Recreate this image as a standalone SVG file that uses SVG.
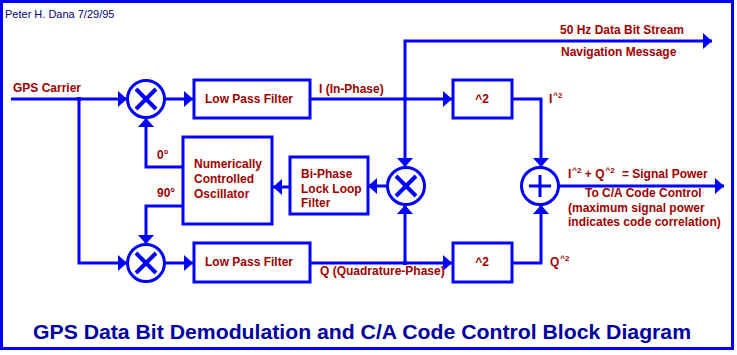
<svg xmlns="http://www.w3.org/2000/svg" width="737" height="355" viewBox="0 0 737 355">
<style>
.ln{fill:none;stroke:#0000FF;stroke-width:3;stroke-linejoin:miter}
.bx{fill:#FFFFFF;stroke:#0000FF;stroke-width:3}
.op{fill:none;stroke:#0000FF;stroke-width:3}
.sym{stroke:#0000FF;stroke-width:4;stroke-linecap:butt}
.lb{font-family:"Liberation Sans",Arial,sans-serif;font-weight:bold;font-size:12px;fill:#A00000}
.sup{font-size:8px}
.dot{fill:#0000FF}
</style>
<defs>
<marker id="ah" markerUnits="userSpaceOnUse" markerWidth="10" markerHeight="16" refX="9" refY="8" orient="auto">
<path d="M0,0 L9,8 L0,16 z" fill="#0000FF"/>
</marker>
</defs>
<rect x="0" y="0" width="737" height="355" fill="#FFFFFF"/>
<rect x="1.5" y="1.5" width="731" height="347" class="ln"/>
<text x="5" y="18" style="font-family:'Liberation Sans',Arial,sans-serif;font-size:11px;fill:#000080">Peter H. Dana 7/29/95</text>

<g id="connectors">
<path class="ln" d="M11,99 H127" marker-end="url(#ah)"/>
<path class="ln" d="M79,99 V263 H127" marker-end="url(#ah)"/>
<path class="ln" d="M165,99 H193" marker-end="url(#ah)"/>
<path class="ln" d="M165,263 H193" marker-end="url(#ah)"/>
<path class="ln" d="M310,99 H452" marker-end="url(#ah)"/>
<path class="ln" d="M310,263 H452" marker-end="url(#ah)"/>
<path class="ln" d="M183,167 H146 V118" marker-end="url(#ah)"/>
<path class="ln" d="M183,206 H146 V244" marker-end="url(#ah)"/>
<path class="ln" d="M290,187 H273" marker-end="url(#ah)"/>
<path class="ln" d="M387,186 H368" marker-end="url(#ah)"/>
<path class="ln" d="M405,99 V167" marker-end="url(#ah)"/>
<path class="ln" d="M405,263 V205" marker-end="url(#ah)"/>
<path class="ln" d="M405,99 V41 H712" marker-end="url(#ah)"/>
<path class="ln" d="M512,99 H541 V167" marker-end="url(#ah)"/>
<path class="ln" d="M512,263 H541 V205" marker-end="url(#ah)"/>
<path class="ln" d="M559,186 H724" marker-end="url(#ah)"/>
<rect class="dot" x="77" y="97" width="4" height="4"/>
<rect class="dot" x="403" y="97" width="4" height="4"/>
<rect class="dot" x="403" y="261" width="4" height="4"/>
</g>

<g id="mixer1">
<circle class="op" cx="146" cy="99" r="18.5"/>
<path class="sym" d="M136,89 L156,109 M156,89 L136,109"/>
</g>
<g id="mixer2">
<circle class="op" cx="146" cy="263" r="18.5"/>
<path class="sym" d="M136,253 L156,273 M156,253 L136,273"/>
</g>
<g id="mixer3">
<circle class="op" cx="406" cy="186" r="18.5"/>
<path class="sym" d="M396,176 L416,196 M416,176 L396,196"/>
</g>
<g id="adder">
<circle class="op" cx="540" cy="186" r="18.5"/>
<path class="sym" style="stroke-width:3" d="M529,186 H551 M540,175 V197"/>
</g>

<g id="lpf1">
<rect class="bx" x="194" y="80" width="116" height="38"/>
<text class="lb" x="205" y="103">Low Pass Filter</text>
</g>
<g id="lpf2">
<rect class="bx" x="194" y="243" width="116" height="39"/>
<text class="lb" x="205" y="266">Low Pass Filter</text>
</g>
<g id="sq1">
<rect class="bx" x="453" y="80" width="59" height="38"/>
<text class="lb" x="482" y="103" text-anchor="middle">^2</text>
</g>
<g id="sq2">
<rect class="bx" x="453" y="243" width="59" height="39"/>
<text class="lb" x="482" y="266" text-anchor="middle">^2</text>
</g>
<g id="nco">
<rect class="bx" x="183" y="137" width="89" height="87"/>
<text class="lb" x="194" y="168">Numerically</text>
<text class="lb" x="194" y="183">Controlled</text>
<text class="lb" x="194" y="198">Oscillator</text>
</g>
<g id="bpll">
<rect class="bx" x="290" y="157" width="78" height="57"/>
<text class="lb" x="301" y="178">Bi-Phase</text>
<text class="lb" x="301" y="193">Lock Loop</text>
<text class="lb" x="301" y="207">Filter</text>
</g>

<g id="labels">
<text class="lb" x="13" y="92">GPS Carrier</text>
<text class="lb" x="319" y="93">I (In-Phase)</text>
<text class="lb" x="320" y="275">Q (Quadrature-Phase)</text>
<text class="lb" x="157" y="159">0°</text>
<text class="lb" x="157" y="197">90°</text>
<text class="lb" x="560" y="34">50 Hz Data Bit Stream</text>
<text class="lb" x="561" y="56">Navigation Message</text>
<text class="lb" x="549" y="103">I<tspan class="sup" dx="1" dy="-5">^2</tspan></text>
<text class="lb" x="550" y="266">Q<tspan class="sup" dx="1" dy="-5">^2</tspan></text>
<text class="lb" x="568" y="178">I<tspan class="sup" dx="1" dy="-5">^2</tspan><tspan dy="5"> + Q</tspan><tspan class="sup" dx="1" dy="-5">^2</tspan><tspan dx="4" dy="5"> = Signal Power</tspan></text>
<text class="lb" x="585" y="197">To C/A Code Control</text>
<text class="lb" x="568" y="212">(maximum signal power</text>
<text class="lb" x="568" y="226">indicates code correlation)</text>
</g>
<text x="33" y="339" textLength="658" lengthAdjust="spacingAndGlyphs" style="font-family:'Liberation Sans',Arial,sans-serif;font-weight:bold;font-size:19.5px;fill:#0000A0">GPS Data Bit Demodulation and C/A Code Control Block Diagram</text>
</svg>
